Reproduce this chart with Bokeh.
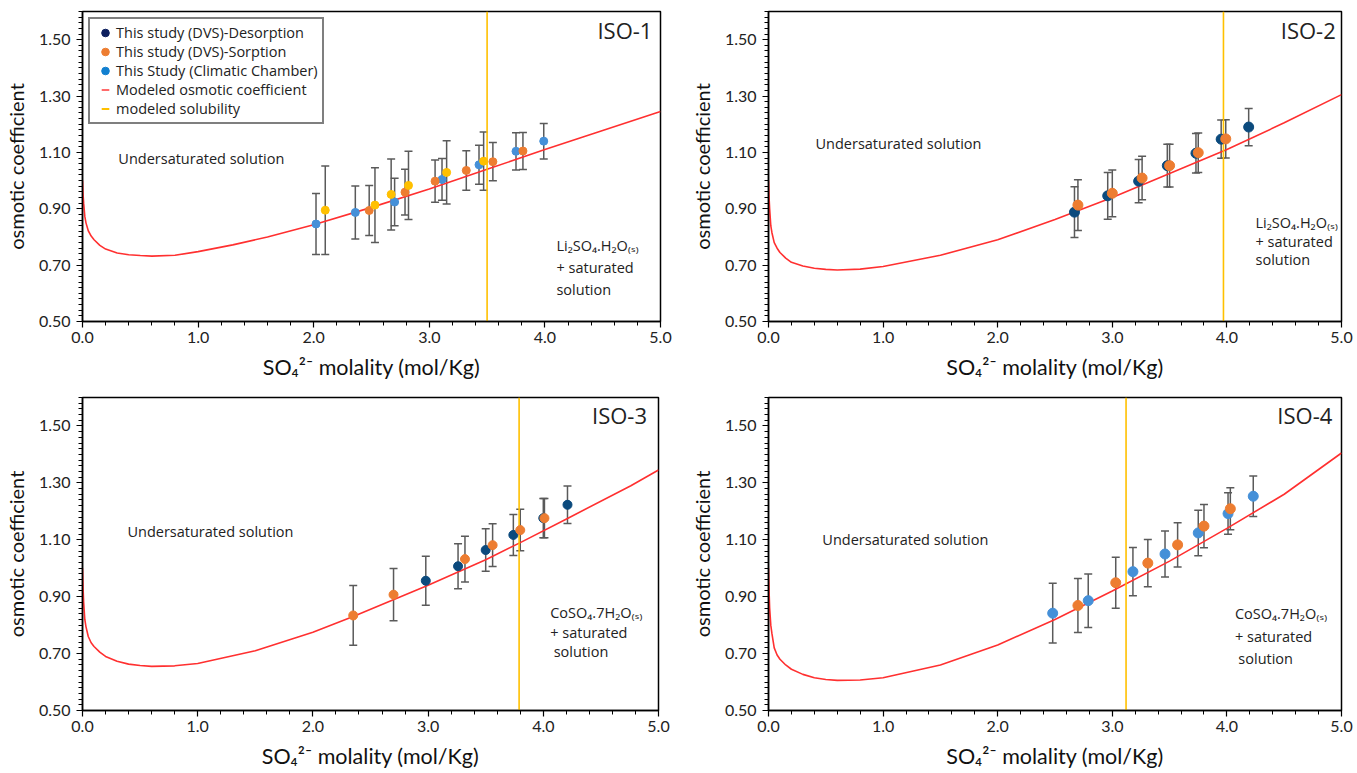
import numpy as np
from bokeh.plotting import figure
from bokeh.models import (ColumnDataSource, Whisker, TeeHead, FixedTicker,
                          NumeralTickFormatter, Legend, LegendItem, Label)
from bokeh.layouts import column, row
from bokeh.embed import file_html
from bokeh.resources import INLINE

# ---------------- data ----------------
# ISO-1
iso1_curve_x = [0.0, 0.005, 0.01, 0.02, 0.03, 0.05, 0.075, 0.1, 0.15, 0.2, 0.3, 0.4, 0.5, 0.6, 0.8, 1.0, 1.3, 1.6, 2.0, 2.5, 3.0, 3.5, 4.0, 4.5, 5.0]
iso1_curve_y = [1.0, 0.95, 0.92, 0.873, 0.85, 0.822, 0.803, 0.79, 0.77, 0.757, 0.743, 0.737, 0.734, 0.732, 0.735, 0.748, 0.772, 0.80, 0.843, 0.905, 0.97, 1.04, 1.11, 1.178, 1.245]
iso1_solubility = 3.5
iso1_blue_x = [2.02, 2.36, 2.70, 3.11, 3.43, 3.75, 3.99]
iso1_blue_y = [0.846, 0.887, 0.924, 1.004, 1.056, 1.104, 1.140]
iso1_blue_err = [0.108, 0.094, 0.084, 0.074, 0.069, 0.066, 0.063]
iso1_orange_x = [2.48, 2.79, 3.05, 3.32, 3.55, 3.81]
iso1_orange_y = [0.894, 0.959, 0.998, 1.036, 1.067, 1.105]
iso1_orange_err = [0.089, 0.081, 0.075, 0.070, 0.068, 0.066]
iso1_gold_x = [2.10, 2.53, 2.67, 2.82, 3.15, 3.47]
iso1_gold_y = [0.895, 0.913, 0.951, 0.983, 1.029, 1.069]
iso1_gold_err = [0.157, 0.133, 0.126, 0.121, 0.112, 0.103]

# ISO-2
iso2_curve_x = [0.0, 0.005, 0.01, 0.02, 0.03, 0.05, 0.075, 0.1, 0.15, 0.2, 0.3, 0.4, 0.5, 0.6, 0.8, 1.0, 1.5, 2.0, 2.5, 3.0, 3.5, 4.0, 4.5, 5.0]
iso2_curve_y = [1.0, 0.94, 0.90, 0.84, 0.815, 0.78, 0.76, 0.745, 0.725, 0.71, 0.697, 0.689, 0.685, 0.683, 0.686, 0.695, 0.735, 0.79, 0.862, 0.94, 1.025, 1.11, 1.205, 1.305]
iso2_solubility = 3.97
iso2_navy_x = [2.67, 2.96, 3.23, 3.48, 3.73, 3.95, 4.19]
iso2_navy_y = [0.888, 0.946, 0.998, 1.053, 1.097, 1.147, 1.190]
iso2_navy_err = [0.090, 0.083, 0.077, 0.076, 0.070, 0.068, 0.066]
iso2_orange_x = [2.70, 3.00, 3.26, 3.50, 3.75, 3.99]
iso2_orange_y = [0.913, 0.955, 1.009, 1.053, 1.099, 1.148]
iso2_orange_err = [0.090, 0.083, 0.077, 0.076, 0.070, 0.068]

# ISO-3
iso3_curve_x = [0.0, 0.005, 0.01, 0.02, 0.03, 0.05, 0.075, 0.1, 0.15, 0.2, 0.3, 0.4, 0.5, 0.6, 0.8, 1.0, 1.5, 2.0, 2.35, 3.0, 3.5, 3.8, 4.21, 4.76, 5.0]
iso3_curve_y = [1.0, 0.93, 0.88, 0.82, 0.795, 0.76, 0.738, 0.725, 0.705, 0.69, 0.673, 0.663, 0.658, 0.655, 0.657, 0.665, 0.71, 0.775, 0.83, 0.94, 1.03, 1.09, 1.175, 1.29, 1.345]
iso3_solubility = 3.79
iso3_navy_x = [2.98, 3.26, 3.50, 3.74, 4.00, 4.21]
iso3_navy_y = [0.956, 1.007, 1.064, 1.117, 1.176, 1.223]
iso3_navy_err = [0.086, 0.079, 0.075, 0.072, 0.069, 0.066]
iso3_orange_x = [2.35, 2.70, 3.32, 3.56, 3.80, 4.01]
iso3_orange_y = [0.834, 0.907, 1.032, 1.081, 1.134, 1.176]
iso3_orange_err = [0.105, 0.092, 0.080, 0.075, 0.073, 0.069]

# ISO-4
iso4_curve_x = [0.0, 0.005, 0.01, 0.02, 0.03, 0.05, 0.075, 0.1, 0.15, 0.2, 0.3, 0.4, 0.5, 0.6, 0.8, 1.0, 1.5, 2.0, 2.5, 3.0, 3.5, 4.0, 4.5, 5.0]
iso4_curve_y = [1.0, 0.92, 0.86, 0.80, 0.77, 0.72, 0.695, 0.68, 0.66, 0.645, 0.627, 0.615, 0.609, 0.606, 0.607, 0.615, 0.66, 0.73, 0.82, 0.92, 1.025, 1.14, 1.26, 1.405]
iso4_solubility = 3.12
iso4_blue_x = [2.48, 2.79, 3.18, 3.46, 3.75, 4.01, 4.23]
iso4_blue_y = [0.842, 0.886, 0.988, 1.050, 1.124, 1.192, 1.253]
iso4_blue_err = [0.105, 0.094, 0.085, 0.081, 0.080, 0.073, 0.071]
iso4_orange_x = [2.70, 3.03, 3.31, 3.57, 3.80, 4.03]
iso4_orange_y = [0.869, 0.949, 1.018, 1.082, 1.148, 1.209]
iso4_orange_err = [0.095, 0.090, 0.083, 0.078, 0.076, 0.074]

legend_labels = ["This study (DVS)-Desorption", "This study (DVS)-Sorption",
                 "This Study (Climatic Chamber)", "Modeled osmotic coefficient",
                 "modeled solubility"]

x_ticks = [0, 1, 2, 3, 4, 5]
y_ticks = [0.5, 0.7, 0.9, 1.1, 1.3, 1.5]

NAVY = "#0b4a7d"
ORANGE = "#ed7d31"
BLUE = "#4590d8"
GOLD = "#ffc000"
RED = "#ff3030"
ERR = "#5a5a5a"
AX_FONT = "Lato"
TXT_FONT = "Open Sans"


def make_fig(w, h, bl, br, bt, bb):
    p = figure(width=w, height=h, x_range=(0, 5), y_range=(0.5, 1.6),
               output_backend="svg", toolbar_location=None,
               min_border_left=bl, min_border_right=br,
               min_border_top=bt, min_border_bottom=bb)
    p.grid.visible = False
    p.outline_line_color = "black"
    p.outline_line_width = 1.5
    p.xaxis.ticker = FixedTicker(ticks=x_ticks,
                                 minor_ticks=[i * 0.2 for i in range(26)])
    p.yaxis.ticker = FixedTicker(ticks=y_ticks,
                                 minor_ticks=[0.5 + i * 0.02 for i in range(56)])
    p.xaxis.formatter = NumeralTickFormatter(format="0.0")
    p.yaxis.formatter = NumeralTickFormatter(format="0.00")
    for ax in (p.xaxis[0], p.yaxis[0]):
        ax.axis_line_color = "black"
        ax.axis_line_width = 1.5
        ax.major_tick_line_color = "black"
        ax.minor_tick_line_color = "black"
        ax.major_tick_line_width = 1.2
        ax.minor_tick_line_width = 1
        ax.major_tick_in = 0
        ax.major_tick_out = 6
        ax.minor_tick_in = 0
        ax.minor_tick_out = 4
        ax.major_label_text_font = AX_FONT
        ax.major_label_text_font_size = "16px"
        ax.major_label_text_color = "#222222"
        ax.axis_label_text_font = AX_FONT
        ax.axis_label_text_font_style = "normal"
        ax.axis_label_text_color = "#111111"
    p.xaxis.axis_label_text_font_size = "21.5px"
    p.yaxis.axis_label_text_font_size = "20px"
    p.xaxis.axis_label = "SO\u2084\u00b2\u207b molality (mol/Kg)"
    p.yaxis.axis_label = "osmotic coefficient"
    p.xaxis.major_label_standoff = 4
    p.xaxis.axis_label_standoff = 8
    p.yaxis.major_label_standoff = 6
    p.yaxis.axis_label_standoff = 8
    return p


def add_series(p, xs, ys, errs, color, size):
    src = ColumnDataSource(dict(x=xs, y=ys,
                                lo=[a - e for a, e in zip(ys, errs)],
                                hi=[a + e for a, e in zip(ys, errs)]))
    w = Whisker(source=src, base="x", lower="lo", upper="hi",
                line_color=ERR, line_width=1.5,
                lower_head=TeeHead(size=8, line_color=ERR, line_width=1.5),
                upper_head=TeeHead(size=8, line_color=ERR, line_width=1.5))
    p.add_layout(w)
    return p.scatter("x", "y", source=src, size=size, fill_color=color,
                     line_color=color)


def add_common(p, cx, cy, sol):
    r_curve = p.line(cx, cy, line_color=RED, line_width=1.6)
    r_sol = p.line([sol, sol], [0.5, 1.6], line_color=GOLD, line_width=1.6)
    return r_curve, r_sol


def add_text(p, x, y, text, size="14.5px", align="left", font=TXT_FONT):
    p.add_layout(Label(x=x, y=y, text=text, text_font=font,
                       text_font_size=size, text_color="#222222",
                       text_align=align, text_baseline="middle"))


# ---------- ISO-1 ----------
p1 = make_fig(683, 388, 82, 23, 11, 66)
c1, s1 = add_common(p1, iso1_curve_x, iso1_curve_y, iso1_solubility)
rb1 = add_series(p1, iso1_blue_x, iso1_blue_y, iso1_blue_err, BLUE, 8)
ro1 = add_series(p1, iso1_orange_x, iso1_orange_y, iso1_orange_err, ORANGE, 8)
rg1 = add_series(p1, iso1_gold_x, iso1_gold_y, iso1_gold_err, GOLD, 8)

# legend-only glyphs (no data drawn)
nan1 = np.array([np.nan])
lg_navy = p1.scatter(nan1, nan1, marker="circle", fill_color="#0d1f5e", line_color="#0d1f5e")
lg_orange = p1.scatter(nan1, nan1, marker="circle", fill_color=ORANGE, line_color=ORANGE)
lg_blue = p1.scatter(nan1, nan1, marker="circle", fill_color="#1280d0", line_color="#1280d0")
lg_red = p1.scatter(nan1, nan1, marker="dash", line_color="#ff6b6b", line_width=2)
lg_gold = p1.scatter(nan1, nan1, marker="dash", line_color=GOLD, line_width=2)
legend = Legend(items=[LegendItem(label=lab, renderers=[r]) for lab, r in
                       zip(legend_labels, [lg_navy, lg_orange, lg_blue, lg_red, lg_gold])],
                location="top_left")
legend.border_line_color = "black"
legend.border_line_width = 2
legend.background_fill_alpha = 1
legend.label_text_font = TXT_FONT
legend.label_text_font_size = "14.5px"
legend.label_text_color = "#222222"
legend.glyph_width = 22
legend.glyph_height = 19
legend.label_height = 19
legend.label_standoff = 0
legend.spacing = -6
legend.padding = 4
legend.margin = 6
p1.add_layout(legend, "center")
add_text(p1, 4.93, 1.535, "ISO-1", size="22px", align="right")
add_text(p1, 0.31, 1.08, "Undersaturated solution")
add_text(p1, 4.10, 0.770, "Li\u2082SO\u2084.H\u2082O\u208d\u209b\u208e")
add_text(p1, 4.10, 0.690, "+ saturated")
add_text(p1, 4.10, 0.612, "solution")

# ---------- ISO-2 ----------
p2 = make_fig(674, 388, 85, 16, 11, 67)
add_common(p2, iso2_curve_x, iso2_curve_y, iso2_solubility)
add_series(p2, iso2_navy_x, iso2_navy_y, iso2_navy_err, NAVY, 10)
add_series(p2, iso2_orange_x, iso2_orange_y, iso2_orange_err, ORANGE, 10)
add_text(p2, 4.95, 1.536, "ISO-2", size="22px", align="right")
add_text(p2, 0.41, 1.133, "Undersaturated solution")
add_text(p2, 4.25, 0.852, "Li\u2082SO\u2084.H\u2082O\u208d\u209b\u208e")
add_text(p2, 4.25, 0.785, "+ saturated")
add_text(p2, 4.25, 0.721, "solution")

# ---------- ISO-3 ----------
p3 = make_fig(683, 385, 82, 25, 9, 63)
add_common(p3, iso3_curve_x, iso3_curve_y, iso3_solubility)
add_series(p3, iso3_navy_x, iso3_navy_y, iso3_navy_err, NAVY, 9)
add_series(p3, iso3_orange_x, iso3_orange_y, iso3_orange_err, ORANGE, 9)
add_text(p3, 4.90, 1.537, "ISO-3", size="22px", align="right")
add_text(p3, 0.39, 1.129, "Undersaturated solution")
add_text(p3, 4.06, 0.844, "CoSO\u2084.7H\u2082O\u208d\u209b\u208e")
add_text(p3, 4.06, 0.774, "+ saturated")
add_text(p3, 4.09, 0.707, "solution")

# ---------- ISO-4 ----------
p4 = make_fig(674, 385, 85, 16, 9, 63)
add_common(p4, iso4_curve_x, iso4_curve_y, iso4_solubility)
add_series(p4, iso4_blue_x, iso4_blue_y, iso4_blue_err, BLUE, 10)
add_series(p4, iso4_orange_x, iso4_orange_y, iso4_orange_err, ORANGE, 10)
add_text(p4, 4.92, 1.537, "ISO-4", size="22px", align="right")
add_text(p4, 0.47, 1.101, "Undersaturated solution")
add_text(p4, 4.07, 0.841, "CoSO\u2084.7H\u2082O\u208d\u209b\u208e")
add_text(p4, 4.07, 0.760, "+ saturated")
add_text(p4, 4.10, 0.683, "solution")

layout = column(row(p1, p2), row(p3, p4))
open("out.html", "w").write(file_html(layout, INLINE))
